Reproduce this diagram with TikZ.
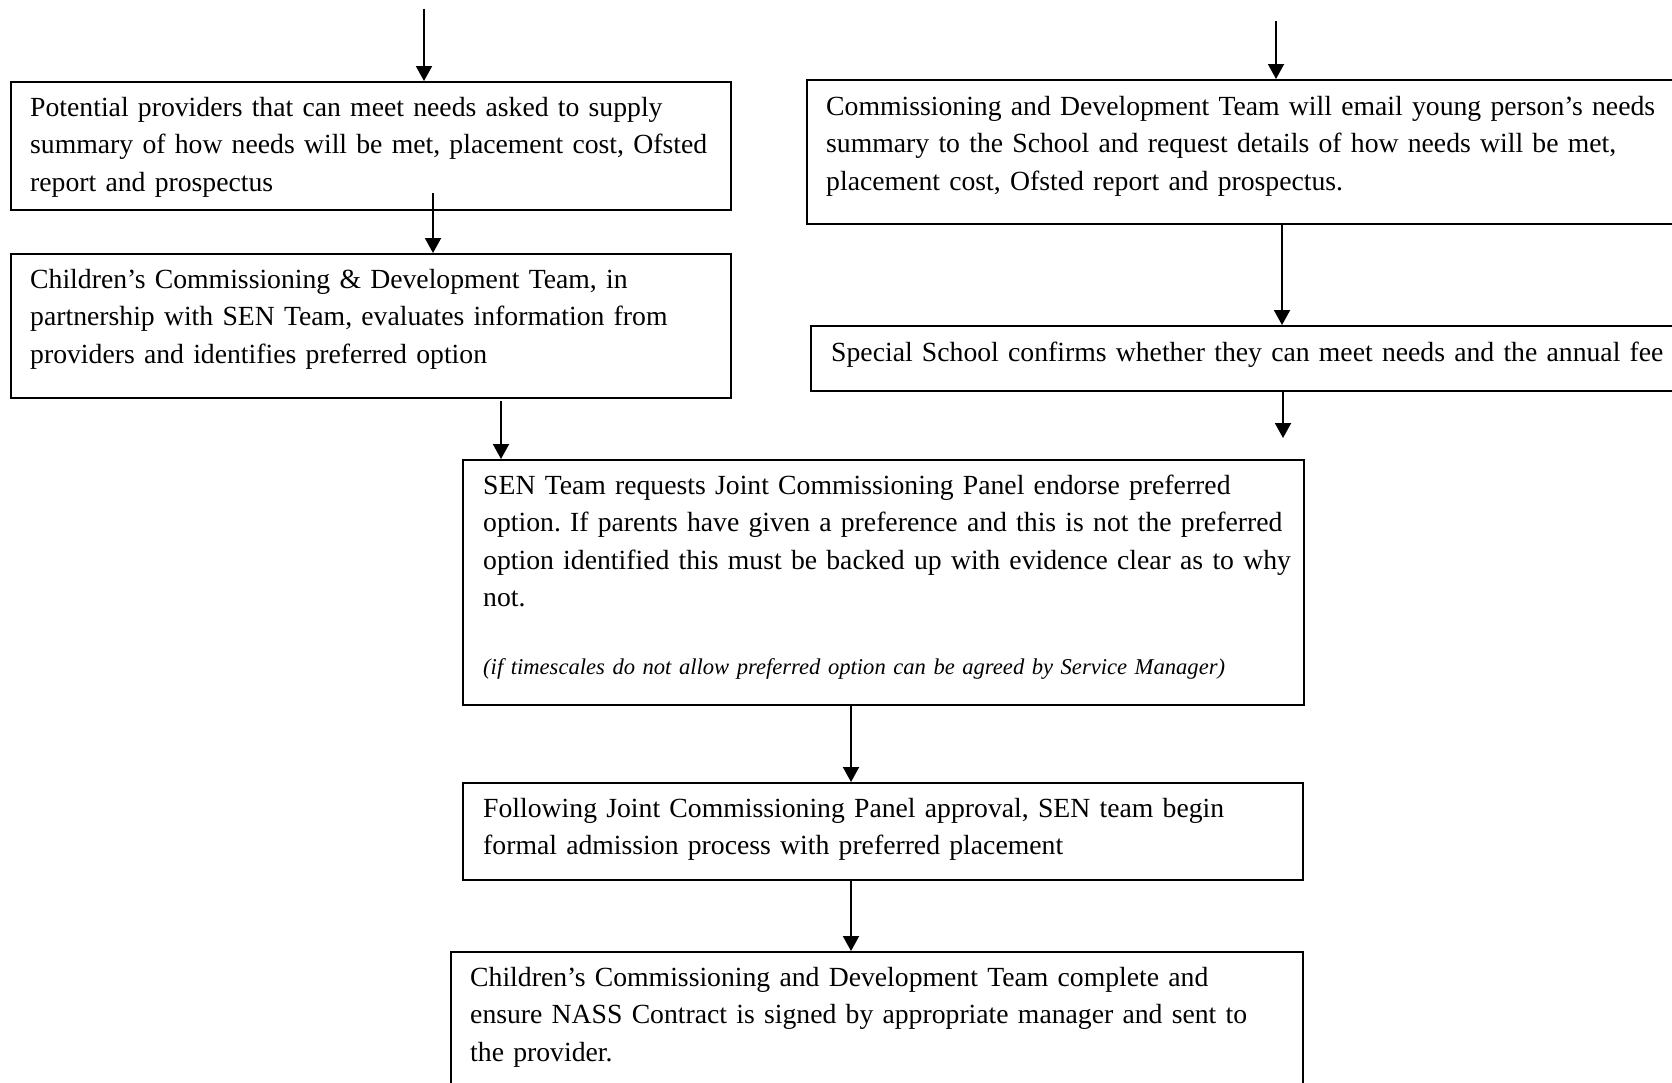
\documentclass[tikz,border=0pt]{standalone}
\usepackage{fontspec}
\setmainfont{Liberation Serif}
\usetikzlibrary{arrows.meta}
\frenchspacing
\tikzset{
  box/.style={draw=black, line width=2pt, inner sep=0pt, rectangle},
  txt/.style={anchor=base west, inner sep=0pt, align=left, text width=1000pt,
    font=\fontsize{27.7}{37.5}\selectfont\frenchspacing},
  itxt/.style={anchor=base west, inner sep=0pt, align=left, text width=1000pt,
    font=\fontsize{22.6}{30}\selectfont\itshape\frenchspacing},
  arr/.style={line width=2pt, -{Triangle[length=15pt,width=16pt]}},
}
\begin{document}
\begin{tikzpicture}[x=1pt,y=-1pt]
\useasboundingbox (0,0) rectangle (1672,1082);
\clip (0,0) rectangle (1672,1082);
% boxes
\node[box, minimum width=720pt, minimum height=128pt, anchor=north west] (b1) at (10,81) {};
\node[box, minimum width=720pt, minimum height=144pt, anchor=north west] (b2) at (10,253) {};
\node[box, minimum width=874pt, minimum height=144pt, anchor=north west] (r1) at (806,79) {};
\node[box, minimum width=870pt, minimum height=65pt, anchor=north west] (r2) at (810,325) {};
\node[box, minimum width=841pt, minimum height=245pt, anchor=north west] (b3) at (462,459) {};
\node[box, minimum width=840pt, minimum height=97pt, anchor=north west] (b4) at (462,782) {};
\node[box, minimum width=852pt, minimum height=150pt, anchor=north west] (b5) at (450,951) {};
% texts
\node[txt] (t1) at (30,116) {Potential providers that can meet needs asked to supply\\summary of how needs will be met, placement cost, Ofsted\\report and prospectus};
\node[txt] (t2) at (30,288) {Children’s Commissioning \& Development Team, in\\partnership with SEN Team, evaluates information from\\providers and identifies preferred option};
\node[txt] (tr1) at (826,115) {Commissioning and Development Team will email young person’s needs\\summary to the School and request details of how needs will be met,\\placement cost, Ofsted report and prospectus.};
\node[txt] (tr2) at (831,361) {Special School confirms whether they can meet needs and the annual fee};
\node[txt] (t3) at (483,494) {SEN Team requests Joint Commissioning Panel endorse preferred\\option. If parents have given a preference and this is not the preferred\\option identified this must be backed up with evidence clear as to why\\not.};
\node[itxt] (t3i) at (483,674) {(if timescales do not allow preferred option can be agreed by Service Manager)};
\node[txt] (t4) at (483,817) {Following Joint Commissioning Panel approval, SEN team begin\\formal admission process with preferred placement};
\node[txt] (t5) at (470,986) {Children’s Commissioning and Development Team complete and\\ensure NASS Contract is signed by appropriate manager and sent to\\the provider.};
% connectors
\coordinate (a1) at (424,8.5);
\coordinate (a2) at (433,193);
\coordinate (a3) at (501,401);
\coordinate (a4) at (851,704);
\coordinate (a5) at (851,879);
\coordinate (c1) at (1276,21);
\coordinate (c2) at (1282,223);
\coordinate (c3) at (1283,390);
\coordinate (c3end) at (1283,438);
\draw[arr] (a1) -- (a1 |- b1.north);
\draw[arr] (a2) -- (a2 |- b2.north);
\draw[arr] (a3) -- (a3 |- b3.north);
\draw[arr] (a4) -- (a4 |- b4.north);
\draw[arr] (a5) -- (a5 |- b5.north);
\draw[arr] (c1) -- (c1 |- r1.north);
\draw[arr] (c2) -- (c2 |- r2.north);
\draw[arr] (c3) -- (c3end);
\end{tikzpicture}
\end{document}
